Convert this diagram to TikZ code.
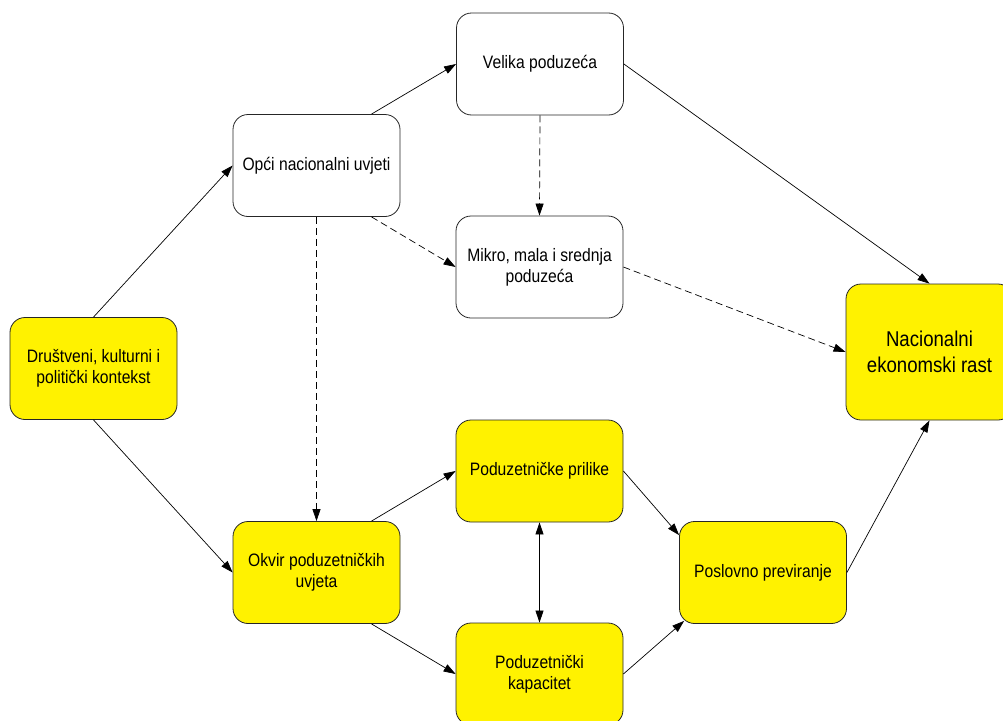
\documentclass[tikz,border=0pt]{standalone}
\usepackage{fontspec}
\setmainfont{Liberation Sans}[FakeStretch=0.87]
\usetikzlibrary{arrows.meta}
\begin{document}
\begin{tikzpicture}[x=1pt,y=-1pt,
  box/.style={draw=black!85, line width=0.8pt, rounded corners=15pt,
    minimum width=167pt, minimum height=102pt, inner sep=2pt, align=center,
    font=\fontsize{18}{21}\selectfont},
  ybox/.style={box, fill=yellow},
  wbox/.style={box, fill=white},
  conn/.style={line width=0.7pt, -{Triangle[length=12pt,width=8pt]}},
  dconn/.style={conn, dash pattern=on 7pt off 4pt}
]
\useasboundingbox (0,0) rectangle (1003,720);
\clip (0,0) rectangle (1003,720);

\node[ybox] (dru) at (93.5,368.5) {Društveni, kulturni i\\politički kontekst};
\node[wbox] (opc) at (316.5,165.5) {Opći nacionalni uvjeti};
\node[wbox] (vel) at (540,64) {Velika poduzeća};
\node[wbox] (mik) at (539.5,267) {Mikro, mala i srednja\\poduzeća};
\node[ybox, minimum height=136pt, font=\fontsize{21.4}{26}\selectfont] (nac) at (929.5,352) {Nacionalni\\ekonomski rast};
\node[ybox] (pri) at (539.5,471) {Poduzetničke prilike};
\node[ybox] (okv) at (316.5,572.5) {Okvir poduzetničkih\\uvjeta};
\node[ybox] (pos) at (763,572.5) {Poslovno previranje};
\node[ybox] (kap) at (539.5,674) {Poduzetnički\\kapacitet};

\draw[conn] (dru.north) -- (opc.west);
\draw[conn] (dru.south) -- (okv.west);
\draw[conn] ([xshift=55pt]opc.north) -- (vel.west);
\draw[conn] (vel.east) -- (nac.north);
\draw[dconn] (vel.south) -- (mik.north);
\draw[dconn] ([xshift=55pt]opc.south) -- (mik.west);
\draw[dconn] (opc.south) -- (okv.north);
\draw[dconn] (mik.east) -- (nac.west);
\draw[conn] ([xshift=55pt]okv.north) -- (pri.west);
\draw[conn] ([xshift=55pt]okv.south) -- (kap.west);
\draw[conn, {Triangle[length=12pt,width=8pt]}-{Triangle[length=12pt,width=8pt]}] (pri.south) -- (kap.north);
\draw[conn] (pri.east) -- ([yshift=-14pt]pos.north west);
\draw[conn] (kap.east) -- ([xshift=5pt,yshift=3pt]pos.south west);
\draw[conn] (pos.east) -- (nac.south);
\end{tikzpicture}
\end{document}
